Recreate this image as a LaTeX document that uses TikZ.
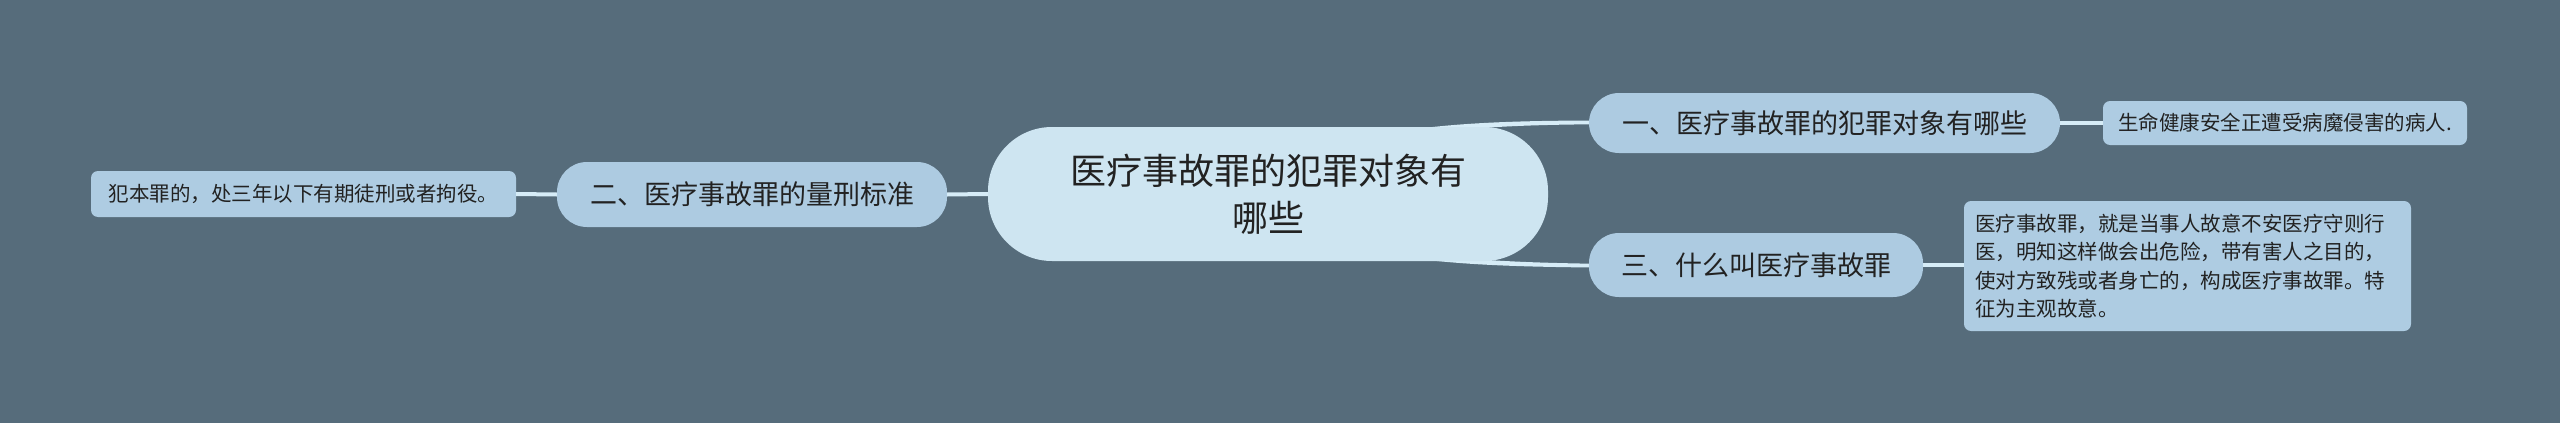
\documentclass[tikz,border=0pt]{standalone}
\usepackage{fontspec}
\setmainfont{Noto Sans CJK SC}
\usetikzlibrary{calc}
\definecolor{bgcol}{HTML}{566C7B}
\definecolor{centercol}{HTML}{CEE5F1}
\definecolor{branchcol}{HTML}{ADCBE1}
\definecolor{leafcol}{HTML}{AECCE2}
\definecolor{linkcol}{HTML}{D6ECF7}
\definecolor{txtcol}{HTML}{222222}
\tikzset{
  centerbox/.style={fill=centercol, rounded corners=64pt, inner sep=0pt, text=txtcol,
    font=\fontsize{36pt}{47pt}\selectfont, align=center},
  branchbox/.style={fill=branchcol, rounded corners=30pt, inner sep=0pt, text=txtcol,
    font=\fontsize{27pt}{32pt}\selectfont},
  leafbox/.style={fill=leafcol, rounded corners=7pt, inner sep=0pt, text=txtcol,
    font=\fontsize{20.5pt}{28.5pt}\selectfont},
  link/.style={draw=linkcol, line width=4pt},
}
\begin{document}
\begin{tikzpicture}[x=1pt,y=-1pt]
\fill[bgcol] (0,0) rectangle (2560,423);
\useasboundingbox (0,0) rectangle (2560,423);

% curved tapered connectors (drawn first, behind nodes)
\coordinate (cstart) at (1268,194);
\coordinate (n1end) at (1589,122.5);
\coordinate (n3end) at (1589,265.5);
\fill[linkcol] ($(cstart)+(0,-5)$) .. controls (1320,126) and (1460,121) .. ($(n1end)+(2,-2)$)
  -- ($(n1end)+(2,1.8)$) .. controls (1460,125.5) and (1330,133) .. ($(cstart)+(0,5)$) -- cycle;
\fill[linkcol] ($(cstart)+(0,5)$) .. controls (1320,262) and (1460,266) .. ($(n3end)+(2,2)$)
  -- ($(n3end)+(2,-1.8)$) .. controls (1460,261.5) and (1330,255) .. ($(cstart)+(0,-5)$) -- cycle;

\node[centerbox, minimum width=560pt, minimum height=134pt] (c) at (1268,194)
  {医疗事故罪的犯罪对象有\\哪些};

\node[branchbox, minimum width=471pt, minimum height=60pt] (n1) at (1824.5,123)
  {一、医疗事故罪的犯罪对象有哪些};
\node[branchbox, minimum width=390pt, minimum height=65pt] (n2) at (752,194.5)
  {二、医疗事故罪的量刑标准};
\node[branchbox, minimum width=334pt, minimum height=64pt] (n3) at (1756,265)
  {三、什么叫医疗事故罪};

\node[leafbox, minimum width=364pt, minimum height=44pt] (l1) at (2285,123)
  {生命健康安全正遭受病魔侵害的病人.};
\node[leafbox, minimum width=425pt, minimum height=46pt] (l2) at (303.5,194)
  {犯本罪的，处三年以下有期徒刑或者拘役。};
\node[leafbox, minimum width=447pt, minimum height=130pt, align=left, text width=425pt] (l3) at (2187.5,266)
  {医疗事故罪，就是当事人故意不安医疗守则行\\医，明知这样做会出危险，带有害人之目的，\\使对方致残或者身亡的，构成医疗事故罪。特\\征为主观故意。};

\path[link] (n2.east) -- (c.west);
\path[link] (l2.east) -- (n2.west);
\path[link] (n1.east) -- (l1.west);
\path[link] (n3.east) -- (l3.west |- n3.east);
\end{tikzpicture}
\end{document}
